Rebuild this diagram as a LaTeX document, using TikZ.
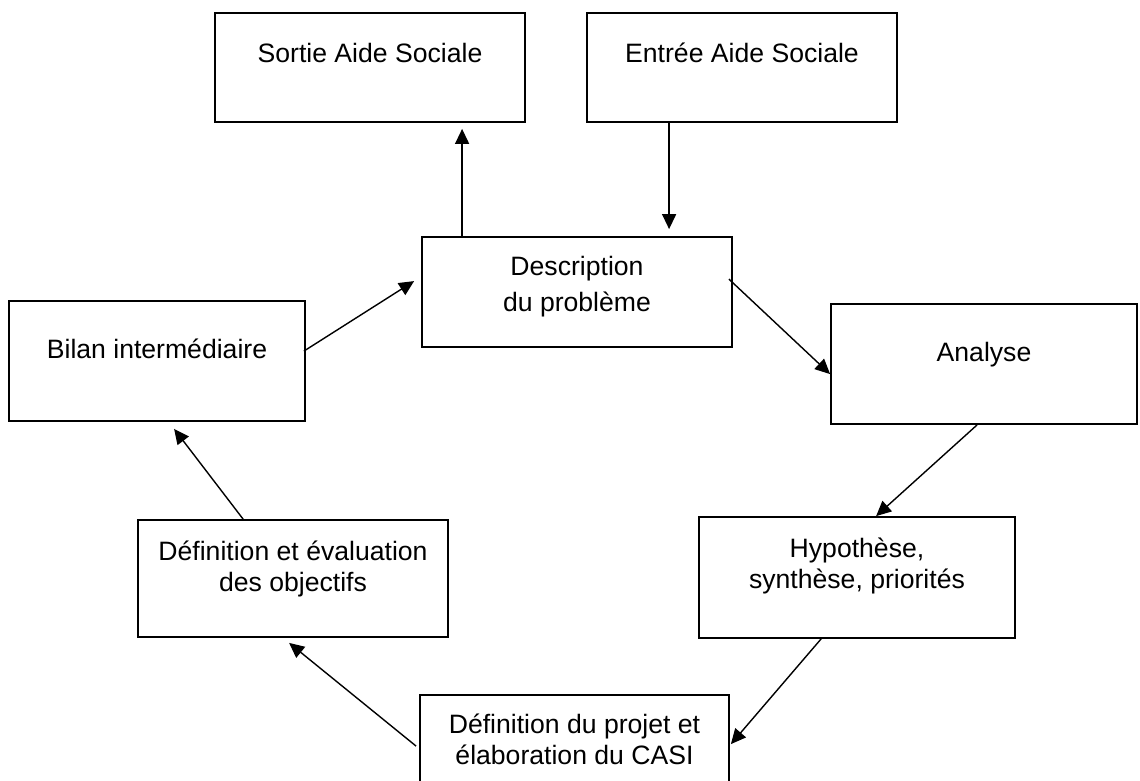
\documentclass[tikz,border=0pt]{standalone}
\usepackage{fontspec}
\setmainfont{Liberation Sans}
\usetikzlibrary{arrows.meta,calc}

\begin{document}
\begin{tikzpicture}[x=0.5pt, y=-0.5pt,
    box/.style={draw, line width=0.9pt, inner sep=0pt},
    txt/.style={align=center, inner sep=0pt, font=\fontsize{13.3}{15.5}\selectfont},
    arr/.style={line width=0.7pt, -{Triangle[length=7.5pt, width=7pt]}}]
      \useasboundingbox (0, 0) rectangle (1140, 781);
      \clip (0, 0) rectangle (1140, 781);
      % boxes
      \node [box, minimum width=155pt, minimum height=54.5pt] (sortie) at (370, 67.5) {};
      \node [box, minimum width=155pt, minimum height=54.5pt] (entree) at (742, 67.5) {};
      \node [box, minimum width=155pt, minimum height=55pt] (desc) at (577, 292) {};
      \node [box, minimum width=148pt, minimum height=60pt] (bilan) at (157, 361) {};
      \node [box, minimum width=153pt, minimum height=60pt] (analyse) at (984, 364) {};
      \node [box, minimum width=158pt, minimum height=60.5pt] (hyp) at (857, 577.5) {};
      \node [box, minimum width=155pt, minimum height=58.5pt] (defobj) at (293, 578.5) {};
      \node [box, minimum width=154.5pt, minimum height=60pt] (projet) at (574.5, 755) {};
      % texts
      \node [txt] (sortiet) at (370, 53) {Sortie Aide Sociale};
      \node [txt] (entreet) at (742, 53) {Entrée Aide Sociale};
      \node [txt, font=\fontsize{13.3}{18}\selectfont] (desct) at (577, 287) {Description\\du problème};
      \node [txt] (bilant) at (157, 349) {Bilan intermédiaire};
      \node [txt] (analyset) at (984, 355) {Analyse};
      \node [txt] (hypt) at (857, 566) {Hypothèse,\\synthèse, priorités};
      \node [txt] (defobjt) at (293, 569) {Définition et évaluation\\des objectifs};
      \node [txt] (projett) at (574.5, 739) {Définition du projet et\\élaboration du CASI};
      % arrows
      \draw [arr] ($(desc.north west)+(41, 0)$) -- ($(sortie.south west)+(248, 6)$);
      \draw [arr] ($(entree.south west)+(83, 0)$) -- ($(desc.north west)+(248, -7)$);
      \draw [arr] ($(bilan.north east)+(-2, 51)$) -- ($(desc.north west)+(-7, 45)$);
      \draw [arr] ($(desc.north east)+(-4, 43)$) -- ($(analyse.north west)+(0, 71)$);
      \draw [arr] ($(analyse.south west)+(147, 0)$) -- ($(hyp.north west)+(178, 0)$);
      \draw [arr] ($(hyp.south west)+(123, 0)$) -- ($(projet.north east)+(1, 50)$);
      \draw [arr] ($(projet.north west)+(-3, 52)$) -- ($(defobj.south west)+(152, 5)$);
      \draw [arr] ($(defobj.north west)+(106, 0)$) -- ($(bilan.south west)+(166, 7)$);
    \end{tikzpicture}
\end{document}
